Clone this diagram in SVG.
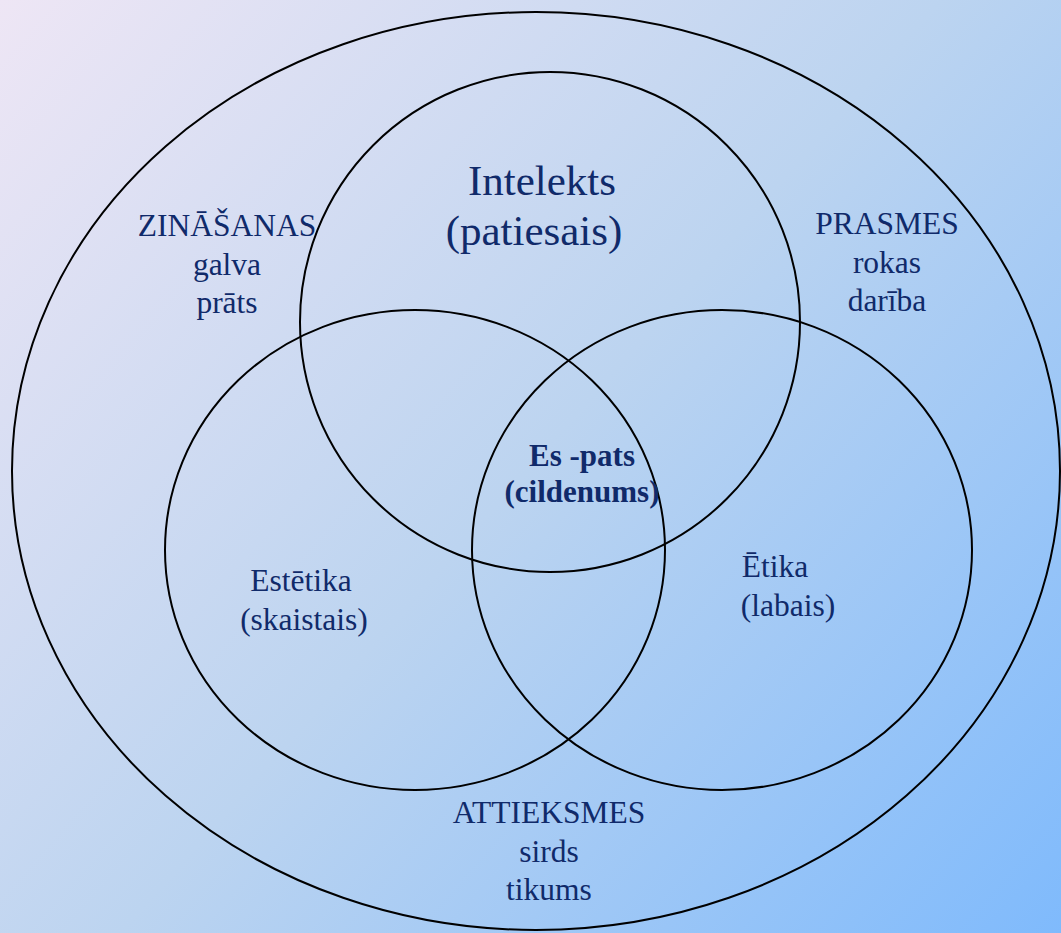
<svg xmlns="http://www.w3.org/2000/svg" width="1061" height="933" viewBox="0 0 1061 933">
<defs>
<linearGradient id="bg" x1="0" y1="0" x2="1061" y2="933" gradientUnits="userSpaceOnUse">
<stop offset="0" stop-color="#eee6f5"/>
<stop offset="0.5" stop-color="#bcd4f0"/>
<stop offset="1" stop-color="#7fbafc"/>
</linearGradient>
<style>
.c{fill:none;stroke:#000;stroke-width:2}
text{font-family:"Liberation Serif","Times New Roman",serif;fill:#102a6a;text-anchor:middle}
.s{font-size:31.5px}
.l{font-size:43px}
.b{font-size:31px;font-weight:bold}
</style>
</defs>
<rect width="1061" height="933" fill="url(#bg)"/>
<g id="outer"><ellipse class="c" cx="536" cy="471" rx="524" ry="459"/>
<text class="s" x="227" y="236">ZINĀŠANAS</text>
<text class="s" x="227" y="275">galva</text>
<text class="s" x="227" y="313">prāts</text>
<text class="s" x="887" y="234">PRASMES</text>
<text class="s" x="887" y="273">rokas</text>
<text class="s" x="887" y="311">darība</text>
<text class="s" x="549" y="823">ATTIEKSMES</text>
<text class="s" x="549" y="862">sirds</text>
<text class="s" x="549" y="900">tikums</text>
</g>
<g id="top"><circle class="c" cx="550" cy="322" r="250"/>
<text class="l" x="542" y="195">Intelekts</text>
<text class="l" x="534" y="245">(patiesais)</text>
</g>
<g id="left"><ellipse class="c" cx="415" cy="550" rx="250" ry="240"/>
<text class="s" x="301" y="591">Estētika</text>
<text class="s" x="304" y="630">(skaistais)</text>
</g>
<g id="right"><ellipse class="c" cx="722" cy="550" rx="250" ry="240"/>
<text class="s" x="775" y="577">Ētika</text>
<text class="s" x="788" y="616">(labais)</text>
</g>
<g id="center">
<text class="b" x="582" y="466">Es -pats</text>
<text class="b" x="582" y="502">(cildenums)</text>
</g>
</svg>
